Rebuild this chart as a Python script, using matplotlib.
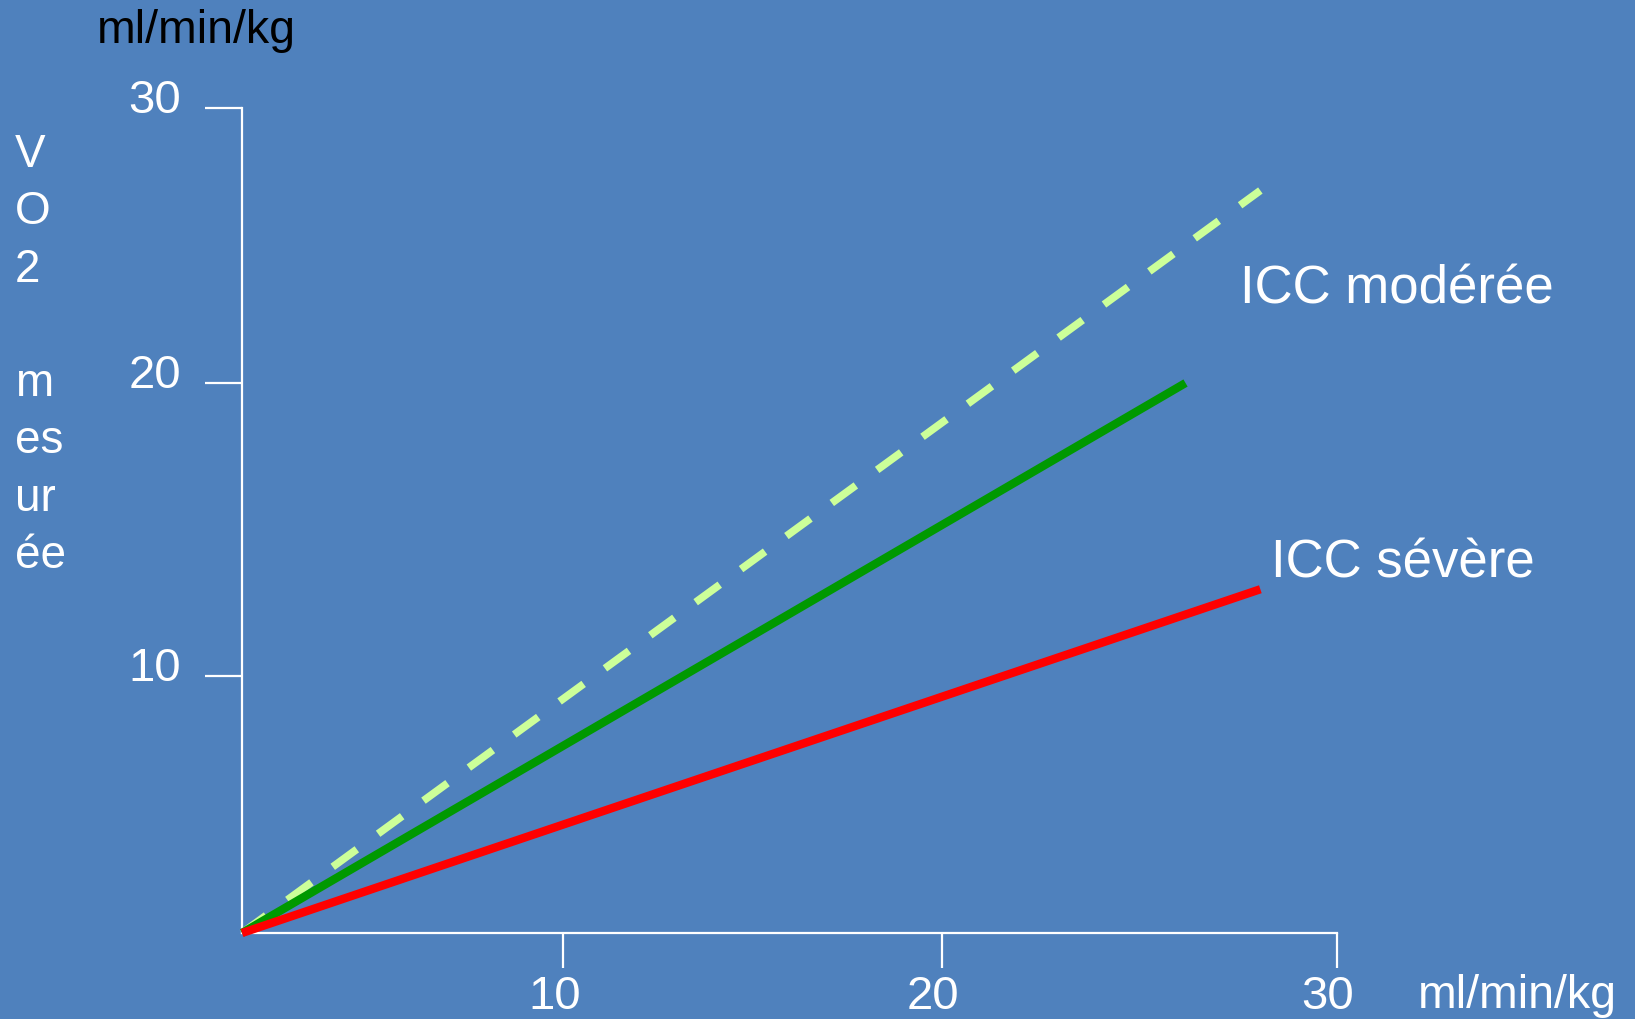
import matplotlib
matplotlib.use("Agg")
import matplotlib.pyplot as plt
from matplotlib.transforms import ScaledTranslation

# Données (unités ml/min/kg)
x_moderee = [0, 27.9]
y_moderee = [0, 27.0]
x_normal = [0, 25.85]
y_normal = [0, 20.0]
x_severe = [0, 27.9]
y_severe = [0, 12.5]

xtick_pos = [8.8, 19.17, 30]
xtick_lbl = ["10", "20", "30"]
ytick_pos = [9.35, 20, 30]
ytick_lbl = ["10", "20", "30"]

BG = "#4F81BD"
C_DASH = "#CCFF99"
C_GREEN = "#009900"
C_RED = "#FF0000"
W, H = 1635, 1019

plt.rcParams["font.family"] = ["Liberation Sans", "DejaVu Sans"]

fig = plt.figure(figsize=(W / 100, H / 100), dpi=100)
fig.patch.set_facecolor(BG)
ax = fig.add_axes([242 / W, 1 - 933 / H, (1337 - 242) / W, (933 - 108) / H])
ax.set_facecolor(BG)
ax.set_xlim(0, 30)
ax.set_ylim(0, 30)

ax.plot(x_moderee, y_moderee, color=C_DASH, lw=5.5, dashes=(3.9, 3.45),
        solid_capstyle="butt", dash_capstyle="butt", clip_on=False, zorder=3)
ax.plot(x_normal, y_normal, color=C_GREEN, lw=6.0, solid_capstyle="butt",
        clip_on=False, zorder=4)
ax.plot(x_severe, y_severe, color=C_RED, lw=6.0, solid_capstyle="butt",
        clip_on=False, zorder=5)

for s in ("top", "right"):
    ax.spines[s].set_visible(False)
for s in ("left", "bottom"):
    ax.spines[s].set_color("white")
    ax.spines[s].set_linewidth(1.6)

ax.set_xticks(xtick_pos, xtick_lbl)
ax.set_yticks(ytick_pos, ytick_lbl)
ax.tick_params(axis="x", colors="white", length=25, width=1.6, pad=5,
               labelsize=34, direction="out")
ax.tick_params(axis="y", colors="white", length=27, width=1.6, pad=17,
               labelsize=34, direction="out")
for lab in ax.get_xticklabels():
    lab.set_transform(lab.get_transform() + ScaledTranslation(-0.09, 0, fig.dpi_scale_trans))
for lab in ax.get_yticklabels():
    lab.set_transform(lab.get_transform() + ScaledTranslation(0, 0.12, fig.dpi_scale_trans))

# Textes
fig.text(97 / W, 1 - 43 / H, "ml/min/kg", color="black", fontsize=33.5,
         ha="left", va="baseline")
fig.text(1418 / W, 1 - 1008 / H, "ml/min/kg", color="white", fontsize=33.5,
         ha="left", va="baseline")
# étiquette verticale : ligne de base de la dernière ligne ("ée")
fig.text(15 / W, 1 - 568 / H, "V\nO\n2\n\nm\nes\nur\née", color="white",
         fontsize=33, ha="left", va="baseline", linespacing=1.39)
fig.text(1240 / W, 1 - 304 / H, "ICC modérée", color="white", fontsize=38,
         ha="left", va="baseline")
fig.text(1271 / W, 1 - 577 / H, "ICC sévère", color="white", fontsize=38,
         ha="left", va="baseline")

fig.savefig("out.png", dpi=100, facecolor=fig.get_facecolor())
